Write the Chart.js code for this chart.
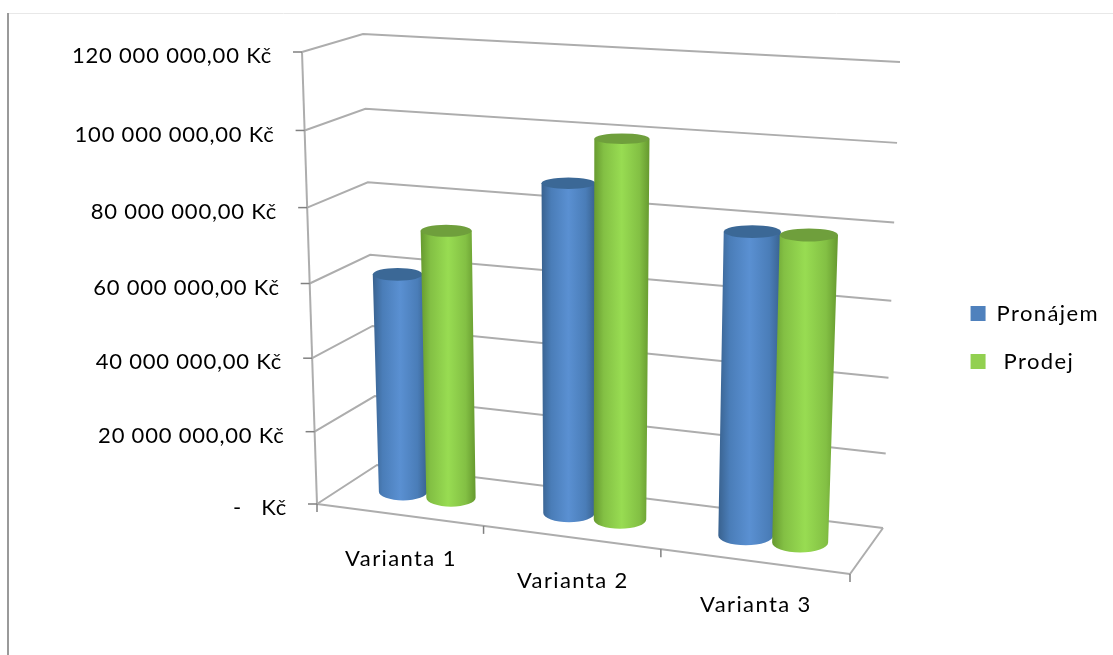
<!DOCTYPE html>
<html>
<head>
<meta charset="utf-8">
<style>
  body { margin: 0; background: #fff; }
  canvas { display: block; }
</style>
<script src="https://cdn.jsdelivr.net/npm/chart.js@4"></script>
</head>
<body>
<canvas id="myChart" width="1113" height="655"></canvas>
<script>
const categories = ['Varianta 1', 'Varianta 2', 'Varianta 3'];
const pronajem = [60000000, 87700000, 79000000];
const prodej = [72800000, 100000000, 79300000];
const tickLabels = ['-   Kč', '20 000 000,00 Kč', '40 000 000,00 Kč', '60 000 000,00 Kč', '80 000 000,00 Kč', '100 000 000,00 Kč', '120 000 000,00 Kč'];

const labelFont = '22px Lato';

// rohy 3D krabice v pixelech: f = predni, b = zadni, L/R, t = nahore, d = dole
const box = {
  fLd: [317, 504], fRd: [850, 574], fLt: [302, 52], fRt: [868, 84],
  bLd: [377, 465], bRd: [883, 528], bLt: [363, 34], bRt: [900, 62]
};

const cylinderStyles = [
  { cap: '#3b6896', stops: ['#39628f', '#4a7db8', '#5a90d2', '#4a7db8', '#39628f'] },
  { cap: '#6f9f3c', stops: ['#66992f', '#83c044', '#98dc52', '#83c044', '#66992f'] }
];

const lerp = (a, b, t) => [a[0] + (b[0] - a[0]) * t, a[1] + (b[1] - a[1]) * t];
const perspU = u => u / (u + 1.1 * (1 - u));
const perspV = v => v / (v + 1.05 * (1 - v));

// u, d, v jsou 0..1 (sirka, hloubka, vyska)
function project(u, d, v) {
  const tu = perspU(u), tv = perspV(v);
  const front = lerp(lerp(box.fLd, box.fRd, tu), lerp(box.fLt, box.fRt, tu), tv);
  const back = lerp(lerp(box.bLd, box.bRd, tu), lerp(box.bLt, box.bRt, tu), tv);
  return lerp(front, back, d);
}

function line(ctx, a, b) {
  ctx.beginPath();
  ctx.moveTo(a[0], a[1]);
  ctx.lineTo(b[0], b[1]);
  ctx.stroke();
}

// elipsa podstavy: sirka podle osy x, vyska podle hloubky krabice
function capEllipse(u, d, v, ru, rd) {
  const c = project(u, d, v);
  return {
    x: c[0],
    y: c[1],
    rx: Math.abs(project(u + ru, d, v)[0] - project(u - ru, d, v)[0]) / 2,
    ry: Math.abs(project(u, d + rd, v)[1] - project(u, d - rd, v)[1]) / 2
  };
}

function drawCylinder(ctx, u, v, ru, style) {
  const d = 0.5, rd = 0.22;
  const top = capEllipse(u, d, v, ru, rd);
  const bottom = capEllipse(u, d, 0, ru, rd);

  ctx.beginPath();
  ctx.moveTo(top.x - top.rx, top.y);
  ctx.lineTo(bottom.x - bottom.rx, bottom.y);
  ctx.ellipse(bottom.x, bottom.y, bottom.rx, bottom.ry, 0, Math.PI, 0, true);
  ctx.lineTo(top.x + top.rx, top.y);
  ctx.closePath();
  const left = Math.min(top.x - top.rx, bottom.x - bottom.rx);
  const right = Math.max(top.x + top.rx, bottom.x + bottom.rx);
  const grad = ctx.createLinearGradient(left, 0, right, 0);
  [0, 0.18, 0.5, 0.82, 1].forEach((s, i) => grad.addColorStop(s, style.stops[i]));
  ctx.fillStyle = grad;
  ctx.fill();

  ctx.beginPath();
  ctx.ellipse(top.x, top.y, top.rx, top.ry, 0, 0, Math.PI * 2);
  ctx.fillStyle = style.cap;
  ctx.fill();
}

const cylinder3d = {
  id: 'cylinder3d',
  beforeUpdate(chart) {
    chart.ctx.letterSpacing = '1.4px';
  },
  beforeDraw(chart) {
    chart.ctx.letterSpacing = '1.4px';
  },
  beforeDatasetsDraw(chart) {
    const ctx = chart.ctx, area = chart.chartArea;
    const xs = chart.scales.x, ys = chart.scales.y;
    const normV = value => (area.bottom - ys.getPixelForValue(value)) / area.height;
    ctx.save();

    // ramecek
    ctx.strokeStyle = '#e8e8e8';
    ctx.lineWidth = 1;
    line(ctx, [7, 13.5], [1113, 13.5]);
    ctx.strokeStyle = '#9a9a9a';
    ctx.lineWidth = 2;
    line(ctx, [8, 13], [8, 655]);

    // mrizka na stenach
    ctx.strokeStyle = '#adadad';
    ctx.lineWidth = 2;
    ys.ticks.forEach(t => {
      const v = normV(t.value);
      const a = project(0, 0, v), b = project(0, 1, v), c = project(1, 1, v);
      ctx.beginPath();
      ctx.moveTo(a[0], a[1]);
      ctx.lineTo(b[0], b[1]);
      ctx.lineTo(c[0], c[1]);
      ctx.stroke();
    });
    // podlaha a osy
    line(ctx, project(0, 0, 0), project(0, 0, 1));
    line(ctx, project(0, 0, 0), project(1, 0, 0));
    line(ctx, project(1, 0, 0), project(1, 1, 0));

    // znacky a popisky osy y
    ctx.fillStyle = '#000';
    ctx.font = labelFont;
    ctx.textAlign = 'right';
    ctx.textBaseline = 'middle';
    ctx.letterSpacing = '0.8px';
    ys.ticks.forEach(t => {
      const p = project(0, 0, normV(t.value));
      ctx.strokeStyle = '#808080';
      ctx.lineWidth = 1.5;
      line(ctx, [p[0] - 9, p[1]], p);
      ctx.fillText(t.label, p[0] - 30, p[1] + 4);
    });

    // znacky a popisky osy x
    const slot = area.width / categories.length;
    ctx.textAlign = 'center';
    ctx.letterSpacing = '1.4px';
    categories.forEach((c, i) => {
      const center = (xs.getPixelForTick(i) - area.left) / area.width;
      const p = project(center, 0, 0);
      ctx.fillText(xs.ticks[i].label, p[0] + 2, p[1] + 44);
      const q = project((xs.getPixelForTick(i) + slot / 2 - area.left) / area.width, 0, 0);
      line(ctx, q, [q[0], q[1] + 8]);
    });
    const o = project(0, 0, 0);
    line(ctx, o, [o[0], o[1] + 8]);

    // valce
    categories.forEach((c, i) => {
      chart.data.datasets.forEach((ds, k) => {
        const bar = chart.getDatasetMeta(k).data[i];
        const u = (bar.x - area.left) / area.width;
        const v = (area.bottom - bar.y) / area.height;
        const ru = bar.width / area.width / 2 * 1.02;
        drawCylinder(ctx, u, v, ru, cylinderStyles[k]);
      });
    });
    ctx.restore();
    return false; // ploche sloupce nekreslit
  }
};

new Chart(document.getElementById('myChart'), {
  type: 'bar',
  data: {
    labels: categories,
    datasets: [
      { label: 'Pronájem', data: pronajem, backgroundColor: '#4f81bd', categoryPercentage: 0.59, barPercentage: 1 },
      { label: ' Prodej', data: prodej, backgroundColor: '#92d050', categoryPercentage: 0.59, barPercentage: 1 }
    ]
  },
  options: {
    responsive: false,
    animation: false,
    layout: { padding: { top: 20, right: 4 } },
    scales: {
      x: { display: false },
      y: {
        display: false,
        min: 0,
        max: 120000000,
        ticks: { stepSize: 20000000, callback: (value, index) => tickLabels[index] }
      }
    },
    plugins: {
      tooltip: { enabled: false },
      legend: {
        position: 'right',
        labels: { boxWidth: 15, boxHeight: 15, padding: 26, color: '#000', font: { family: 'Lato', size: 22 } }
      }
    }
  },
  plugins: [cylinder3d]
});
</script>
</body>
</html>
